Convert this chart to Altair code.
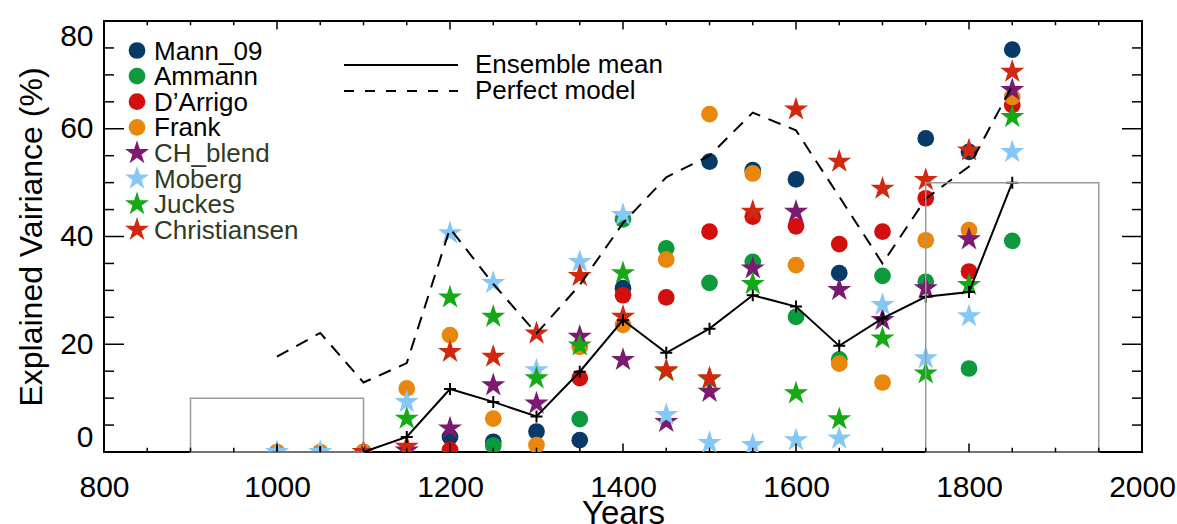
import altair as alt
import pandas as pd

years = [1000, 1050, 1100, 1150, 1200, 1250, 1300, 1350, 1400, 1450,
         1500, 1550, 1600, 1650, 1700, 1750, 1800, 1850]

mann_09 = [None, None, None, None, 2.8, 1.9, 3.8, 2.2, 30.4, None,
           53.9, 52.3, 50.6, 33.2, None, 58.2, 55.7, 74.7]
ammann = [None, None, None, None, None, 1.2, None, 6.1, 43.2, 37.8,
          31.4, 35.3, 25.1, 17.2, 32.7, 31.6, 15.5, 39.2]
darrigo = [None, None, 0.0, None, 0.4, None, None, 13.7, 29.1, 28.7,
           40.9, 43.7, 41.9, 38.6, 40.9, 47.1, 33.5, 64.4]
frank = [0.0, 0.0, 0.0, 11.8, 21.7, 6.2, 1.3, 19.5, 23.6, 35.7,
         62.7, 51.7, 34.7, 16.4, 12.9, 39.3, 41.2, 65.9]
ch_blend = [None, None, None, 0.3, 4.4, 12.4, 9.0, 21.4, 17.1, 5.6,
            11.2, 34.1, 44.6, 30.1, 24.5, 30.4, 39.5, 67.2]
moberg = [0.0, 0.0, None, 9.3, 40.6, 31.4, 15.2, 35.3, 44.0, 6.9,
          1.7, 1.3, 2.2, 2.5, 27.3, 17.4, 25.2, 55.7]
juckes = [None, None, None, 6.2, 28.7, 25.1, 13.7, 19.8, 33.2, 15.0,
          13.5, 31.2, 10.9, 6.1, 21.1, 14.6, 31.0, 62.2]
christiansen = [None, None, 0.0, 1.0, 18.6, 17.7, 22.0, 32.7, 25.1, 15.2,
                13.7, 44.6, 63.6, 53.9, 48.9, 50.5, 56.0, 70.6]

ensemble_mean = [0.0, 0.0, 0.0, 2.8, 11.7, 9.3, 6.6, 14.9, 24.5, 18.4,
                 22.9, 29.1, 27.0, 19.7, 24.8, 28.8, 29.7, 50.0]
perfect_model = [17.7, 22.1, 12.9, 16.5, 41.5, 31.2, 22.0, 31.0, 42.5, 51.0,
                 55.0, 63.0, 59.7, 47.4, 35.0, 47.0, 53.0, 68.0]

box_x0 = [900, 1750]
box_x1 = [1100, 1950]
box_y0 = [0, 0]
box_y1 = [10, 50]

names = ["Mann_09", "Ammann", "D’Arrigo", "Frank",
         "CH_blend", "Moberg", "Juckes", "Christiansen"]
values = [mann_09, ammann, darrigo, frank, ch_blend, moberg, juckes, christiansen]
colors = ["#073a66", "#0c9a3c", "#d40d0d", "#e8870c",
          "#7b1a70", "#85c8f8", "#15aa15", "#d2280f"]
kinds = ["circle"] * 4 + ["star"] * 4
text_colors = ["#000000"] * 4 + ["#2e3b1f"] * 4

x_labels = [800, 1000, 1200, 1400, 1600, 1800, 2000]
y_labels = [0, 20, 40, 60, 80]

STAR = ("M0,-1L0.2245,-0.309L0.9511,-0.309L0.3633,0.118L0.5878,0.809L0,0.382"
        "L-0.5878,0.809L-0.3633,0.118L-0.9511,-0.309L-0.2245,-0.309Z")
CROSS = "M-1,0L1,0M0,-1L0,1"
CIRCLE_SIZE = 280
STAR_SIZE = 640

FONT = "Liberation Sans"
W, H = 1038, 431
LEG_FS = 26

rows = []
for name, vals, k in zip(names, values, kinds):
    for yr, v in zip(years, vals):
        if v is not None:
            rows.append({"year": yr, "value": v, "series": name, "kind": k})
pts_df = pd.DataFrame(rows)
line_df = pd.DataFrame({"year": years, "ens": ensemble_mean, "perf": perfect_model})
box_df = pd.DataFrame({"x0": box_x0, "x1": box_x1, "y0": box_y0, "y1": box_y1})

xscale = alt.Scale(domain=[800, 2000], nice=False, zero=False)
yscale = alt.Scale(domain=[0, 80], nice=False, zero=False)
xaxis = alt.Axis(values=x_labels, title="Years", ticks=False, domain=False, grid=False,
                 labelFontSize=30, titleFontSize=33, labelPadding=20, titlePadding=-5,
                 labelFont=FONT, titleFont=FONT, labelColor="black", titleColor="black",
                 titleFontWeight="normal", format="d", labelOverlap=False, labelFlush=False,
                 orient="bottom")
yaxis = alt.Axis(values=y_labels, title="Explained Vairiance (%)", ticks=False, domain=False,
                 grid=False, labelFontSize=30, titleFontSize=32, labelPadding=11,
                 titlePadding=11, labelFont=FONT, titleFont=FONT, labelColor="black",
                 titleColor="black", titleFontWeight="normal", format="d",
                 labelOverlap=False, labelFlush=True, orient="left")


def X(f):
    return alt.X(f, scale=xscale, axis=xaxis)


def Y(f):
    return alt.Y(f, scale=yscale, axis=yaxis)


color_enc = alt.Color("series:N", scale=alt.Scale(domain=names, range=colors), legend=None)

circles = alt.Chart(pts_df).transform_filter("datum.kind == 'circle'").mark_point(
    filled=True, opacity=1, strokeWidth=0, shape="circle", size=CIRCLE_SIZE, clip=True
).encode(x=X("year:Q"), y=Y("value:Q"), color=color_enc)

stars = alt.Chart(pts_df).transform_filter("datum.kind == 'star'").mark_point(
    filled=True, opacity=1, strokeWidth=0, shape=STAR, size=STAR_SIZE, clip=True
).encode(x=X("year:Q"), y=Y("value:Q"), color=color_enc)

perf_line = alt.Chart(line_df).mark_line(
    color="black", strokeWidth=2, strokeDash=[13, 9], clip=True
).encode(x=X("year:Q"), y=Y("perf:Q"))

ens_line = alt.Chart(line_df).mark_line(
    color="black", strokeWidth=2, clip=True
).encode(x=X("year:Q"), y=Y("ens:Q"))

ens_pts = alt.Chart(line_df).mark_point(
    shape=CROSS, size=144, filled=False, color="black",
    strokeWidth=2, opacity=1, clip=True
).encode(x=X("year:Q"), y=Y("ens:Q"))

boxes = alt.Chart(box_df).mark_rect(
    fillOpacity=0, stroke="#9a9a9a", strokeWidth=1.5
).encode(x=X("x0:Q"), x2="x1:Q", y=Y("y0:Q"), y2="y1:Q")

# inward ticks
xt_major = pd.DataFrame({"t": list(range(800, 2001, 200))})
xt_minor = pd.DataFrame({"t": [t for t in range(800, 2001, 50) if t % 200 != 0]})
yt_major = pd.DataFrame({"t": list(range(0, 81, 20))})
yt_minor = pd.DataFrame({"t": [t for t in range(0, 81, 5) if t % 20 != 0]})

tick_layers = []
for df, ln in [(xt_major, 8.5), (xt_minor, 4.3)]:
    tick_layers.append(alt.Chart(df).mark_rule(color="black", strokeWidth=1.5).encode(
        x=X("t:Q"), y=alt.value(H), y2=alt.value(H - ln)))
    tick_layers.append(alt.Chart(df).mark_rule(color="black", strokeWidth=1.5).encode(
        x=X("t:Q"), y=alt.value(0), y2=alt.value(ln)))
for df, ln in [(yt_major, 20), (yt_minor, 10)]:
    tick_layers.append(alt.Chart(df).mark_rule(color="black", strokeWidth=1.5).encode(
        y=Y("t:Q"), x=alt.value(0), x2=alt.value(ln)))
    tick_layers.append(alt.Chart(df).mark_rule(color="black", strokeWidth=1.5).encode(
        y=Y("t:Q"), x=alt.value(W - ln), x2=alt.value(W)))

# legend (series)
one = pd.DataFrame({"a": [0]})
legend_layers = []
for i, (name, col, k, tc) in enumerate(zip(names, colors, kinds, text_colors)):
    ly = 29.5 + 25.6 * i
    legend_layers.append(alt.Chart(one).mark_point(
        filled=True, opacity=1, strokeWidth=0,
        shape="circle" if k == "circle" else STAR,
        size=CIRCLE_SIZE if k == "circle" else STAR_SIZE, color=col
    ).encode(x=alt.value(33), y=alt.value(ly)))
    legend_layers.append(alt.Chart(one).mark_text(
        text=name, font=FONT, fontSize=LEG_FS, color=tc, align="left", baseline="middle"
    ).encode(x=alt.value(50), y=alt.value(ly + 1)))

# legend (lines)
line_leg = [
    alt.Chart(one).mark_rule(color="black", strokeWidth=2).encode(
        x=alt.value(240), x2=alt.value(354), y=alt.value(44)),
    alt.Chart(one).mark_rule(color="black", strokeWidth=2, strokeDash=[10, 11]).encode(
        x=alt.value(240), x2=alt.value(354), y=alt.value(70)),
    alt.Chart(one).mark_text(text="Ensemble mean", font=FONT, fontSize=LEG_FS, color="black",
                             align="left", baseline="middle").encode(
        x=alt.value(371), y=alt.value(44)),
    alt.Chart(one).mark_text(text="Perfect model", font=FONT, fontSize=LEG_FS, color="black",
                             align="left", baseline="middle").encode(
        x=alt.value(371), y=alt.value(70)),
]

chart = alt.layer(
    circles, stars, perf_line, ens_line, ens_pts, boxes,
    *tick_layers, *legend_layers, *line_leg
).properties(
    width=W, height=H,
    padding={"left": 104, "top": 21, "right": 35, "bottom": 72},
    autosize=alt.AutoSizeParams(type="none"),
    background="white",
).configure_view(stroke="black", strokeWidth=2)

chart.save("out.html", embed_options={"renderer": "svg", "actions": False})
